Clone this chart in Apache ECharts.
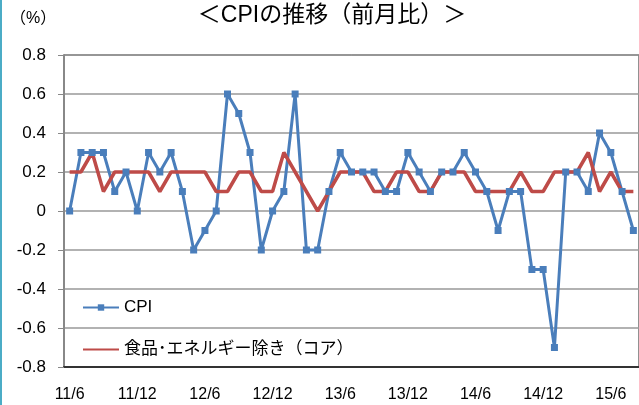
<!DOCTYPE html>
<html>
<head>
<meta charset="utf-8">
<script src="https://cdn.jsdelivr.net/npm/echarts@6/dist/echarts.min.js"></script>
<style>
  html, body { margin: 0; padding: 0; background: #fff; }
  #chart { width: 639px; height: 405px; }
</style>
</head>
<body>
<div id="chart"></div>
<script>
  // 2011/6 .. 2015/8, monthly
  const months = [
    '11/6', '11/7', '11/8', '11/9', '11/10', '11/11', '11/12',
    '12/1', '12/2', '12/3', '12/4', '12/5', '12/6', '12/7', '12/8', '12/9', '12/10', '12/11', '12/12',
    '13/1', '13/2', '13/3', '13/4', '13/5', '13/6', '13/7', '13/8', '13/9', '13/10', '13/11', '13/12',
    '14/1', '14/2', '14/3', '14/4', '14/5', '14/6', '14/7', '14/8', '14/9', '14/10', '14/11', '14/12',
    '15/1', '15/2', '15/3', '15/4', '15/5', '15/6', '15/7', '15/8'
  ]
  const cpi = [
    0, 0.3, 0.3, 0.3, 0.1, 0.2, 0,
    0.3, 0.2, 0.3, 0.1, -0.2, -0.1, 0, 0.6, 0.5, 0.3, -0.2, 0,
    0.1, 0.6, -0.2, -0.2, 0.1, 0.3, 0.2, 0.2, 0.2, 0.1, 0.1, 0.3,
    0.2, 0.1, 0.2, 0.2, 0.3, 0.2, 0.1, -0.1, 0.1, 0.1, -0.3, -0.3,
    -0.7, 0.2, 0.2, 0.1, 0.4, 0.3, 0.1, -0.1
  ]
  const core = [
    0.2, 0.2, 0.3, 0.1, 0.2, 0.2, 0.2,
    0.2, 0.1, 0.2, 0.2, 0.2, 0.2, 0.1, 0.1, 0.2, 0.2, 0.1, 0.1,
    0.3, 0.2, 0.1, 0, 0.1, 0.2, 0.2, 0.2, 0.1, 0.1, 0.2, 0.2,
    0.1, 0.1, 0.2, 0.2, 0.2, 0.1, 0.1, 0.1, 0.1, 0.2, 0.1, 0.1,
    0.2, 0.2, 0.2, 0.3, 0.1, 0.2, 0.1, 0.1
  ]
  const coreName = '食品･エネルギー除き（コア）'

  const font = '"Liberation Sans", Arial, "Noto Sans CJK JP", sans-serif'
  const chart = echarts.init(document.getElementById('chart'))
  chart.setOption({
    animation: false,
    textStyle: { fontFamily: font },
    title: {
      text: '＜CPIの推移（前月比）＞',
      left: 327,
      textAlign: 'center',
      top: -1,
      textStyle: { fontSize: 23, fontWeight: 'normal', color: '#000', fontFamily: font }
    },
    graphic: [
      { type: 'rect', left: 0, top: 0, shape: { width: 2, height: 405 }, style: { fill: '#4bacc6' } },
      { type: 'text', left: 10, top: 11, style: { text: '（%）', fontSize: 16, fill: '#000', fontFamily: font } }
    ],
    legend: {
      orient: 'vertical',
      left: 77,
      top: 294,
      itemWidth: 36,
      itemHeight: 8,
      itemGap: 25,
      textStyle: { fontSize: 17, color: '#000', fontFamily: font },
      data: [
        'CPI',
        { name: coreName, itemStyle: { color: 'transparent', borderWidth: 0 } }
      ]
    },
    grid: {
      left: 64,
      top: 55,
      width: 581,
      height: 312,
      show: true,
      borderColor: '#222',
      borderWidth: 1
    },
    xAxis: {
      type: 'category',
      data: months,
      boundaryGap: true,
      axisLine: { onZero: false, lineStyle: { color: '#333', width: 2 } },
      axisTick: { show: false },
      axisLabel: { interval: 5, fontSize: 16, color: '#000', margin: 20 }
    },
    yAxis: {
      type: 'value',
      min: -0.8,
      max: 0.8,
      interval: 0.2,
      axisLine: { show: true, lineStyle: { color: '#888', width: 2 } },
      axisTick: { show: true, length: 6, lineStyle: { color: '#888' } },
      axisLabel: { fontSize: 17, color: '#000', margin: 18 },
      splitLine: { lineStyle: { color: '#999', width: 1.5 } }
    },
    series: [
      {
        name: 'CPI',
        type: 'line',
        data: cpi,
        symbol: 'rect',
        symbolSize: 7,
        lineStyle: { color: '#4a7ebb', width: 3 },
        itemStyle: { color: '#4a7ebb' }
      },
      {
        name: coreName,
        type: 'line',
        data: core,
        symbol: 'none',
        lineStyle: { color: '#be4b48', width: 3.5 },
        itemStyle: { color: '#be4b48' }
      }
    ]
  })
</script>
</body>
</html>
